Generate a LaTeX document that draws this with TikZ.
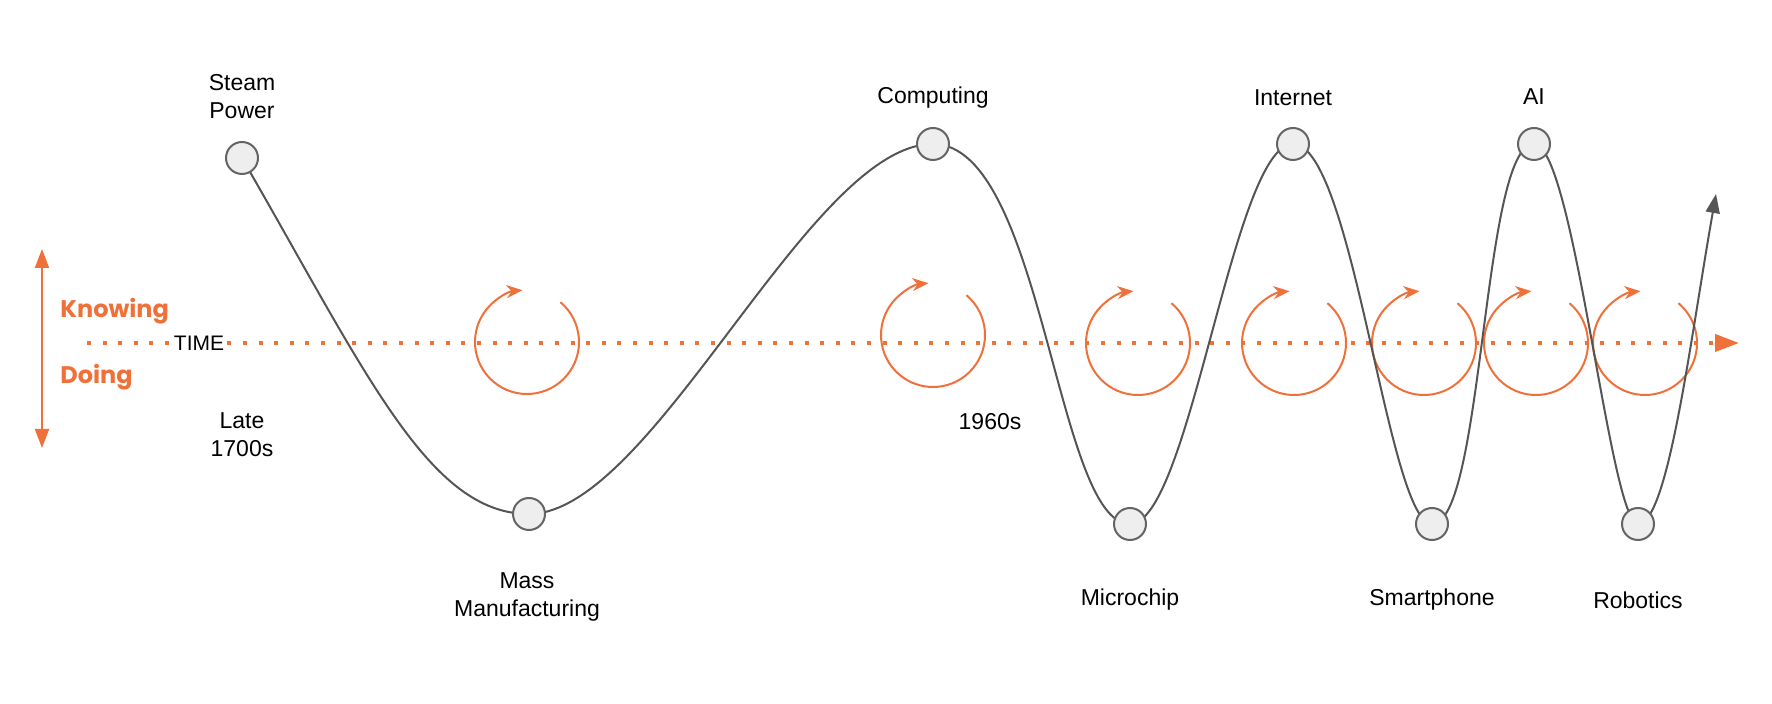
\documentclass[tikz,border=0pt]{standalone}
\usepackage{fontspec}
\setmainfont{Liberation Sans}
\newfontfamily\poppins{Poppins}
\usepackage{xcolor}
\usetikzlibrary{arrows.meta}
\usetikzlibrary{backgrounds}
\definecolor{clorange}{RGB}{239,112,56}
\definecolor{clwave}{RGB}{85,85,85}
\definecolor{clnode}{RGB}{238,238,238}
\definecolor{clborder}{RGB}{100,100,100}
\tikzstyle{event} = [circle, draw=clborder, line width=1pt, fill=clnode, minimum size=16pt, inner sep=0pt]
\tikzstyle{eventlabel} = [align=center, font=\fontsize{11.5}{14}\selectfont, inner sep=0pt]
\tikzstyle{wave} = [draw=clwave, line width=1pt]
\tikzstyle{spin} = [draw=clorange, line width=1pt, -{Stealth[length=8pt, width=6.5pt]}]
\tikzstyle{timeline} = [draw=clorange, line width=2pt, dash pattern=on 2pt off 5.8pt, -{Triangle[length=12pt, width=8.5pt]}]
\tikzstyle{swing} = [draw=clorange, line width=1pt, {Triangle[length=9.5pt, width=7pt]}-{Triangle[length=9.5pt, width=7pt]}]
\tikzstyle{swinglabel} = [anchor=west, inner sep=0pt, text=clorange, font=\poppins\bfseries\fontsize{12}{14}\selectfont]

\begin{document}
\begin{tikzpicture}[x=0.5pt, y=0.5pt]
    \useasboundingbox (0,0) rectangle (1772,-704);

    % milestones on the wave
    \node [event] (sp) at (242,-158) {};
    \node [event] (mm) at (529,-514) {};
    \node [event] (cp) at (933,-144) {};
    \node [event] (mc) at (1130,-524) {};
    \node [event] (it) at (1293,-144) {};
    \node [event] (sm) at (1432,-524) {};
    \node [event] (ai) at (1534,-144) {};
    \node [event] (rb) at (1638,-524) {};
    \coordinate (rise) at (1716,-194);

    \node [eventlabel] (spl) at (242,-97) {Steam\\Power};
    \node [eventlabel] (cpl) at (933,-98) {Computing};
    \node [eventlabel] (itl) at (1293,-98) {Internet};
    \node [eventlabel] (ail) at (1534,-97) {AI};
    \node [eventlabel] (mml) at (527,-597) {Mass\\Manufacturing};
    \node [eventlabel] (mcl) at (1130,-600) {Microchip};
    \node [eventlabel] (sml) at (1432,-600) {Smartphone};
    \node [eventlabel] (rbl) at (1638,-600) {Robotics};
    \node [eventlabel] (late) at (242,-435) {Late\\1700s};
    \node [eventlabel] (sixties) at (990,-422) {1960s};

    % knowing / doing scale
    \coordinate (kn) at (42,-249);
    \coordinate (dn) at (42,-448);
    \path [swing] (kn) -- (dn);
    \node [swinglabel] (knowing) at (60,-311) {Knowing};
    \node [swinglabel] (doing) at (60,-377) {Doing};

    \node [eventlabel, fill=white, inner sep=1pt, font=\fontsize{10.5}{13}\selectfont] (time) at (199,-343) {TIME};

    \begin{scope}[on background layer]
    \coordinate (t0) at (87,-343);
    \coordinate (t1) at (1739,-343);
    \path [timeline] (t0) -- (t1);

    \foreach \x/\y in {527/342, 933/335, 1138/343, 1294/343, 1424/343, 1536/343, 1645/343}
        \path [spin] (\x,-\y) ++(50:26pt) arc [start angle=50, end angle=-265, radius=26pt];

    \path [wave, -{Triangle[length=9.5pt, width=7pt]}] (sp.center)
        to [out=-60, in=180, out distance=125pt, in distance=50pt] (mm.center)
        to [out=0, in=180, out distance=62pt, in distance=62pt] (cp.center)
        to [out=0, in=180, out distance=55pt, in distance=37pt] (mc.center)
        to [out=0, in=180, out distance=30pt, in distance=30pt] (it.center)
        to [out=0, in=180, out distance=30pt, in distance=22pt] (sm.center)
        to [out=0, in=180, out distance=26pt, in distance=26pt] (ai.center)
        to [out=0, in=180, out distance=20pt, in distance=14pt] (rb.center)
        to [out=0, in=-100, out distance=15pt, in distance=75pt] (rise);
    \end{scope}
\end{tikzpicture}
\end{document}
